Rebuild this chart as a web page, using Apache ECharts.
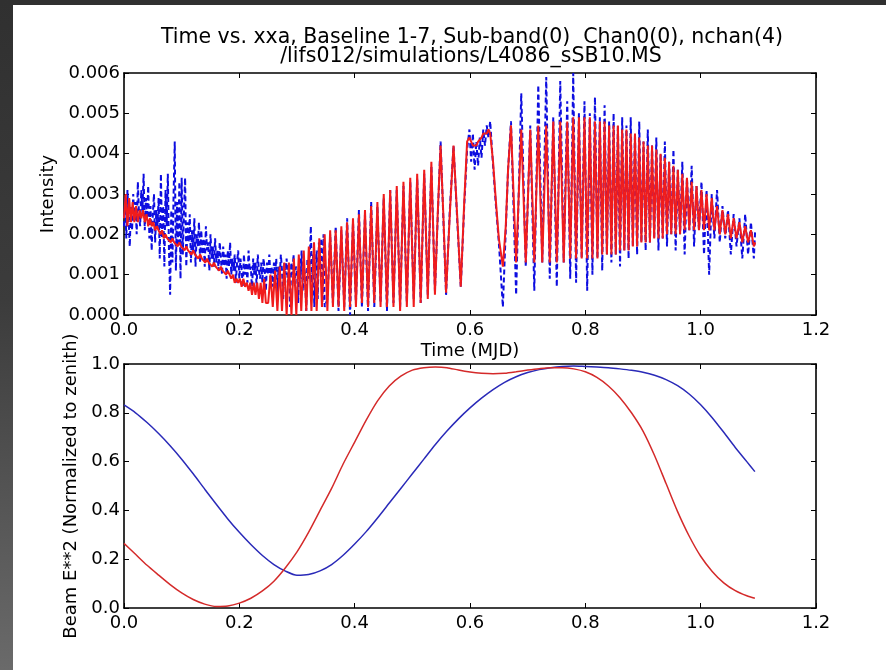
<!DOCTYPE html>
<html>
<head>
<meta charset="utf-8">
<script src="https://cdn.jsdelivr.net/npm/echarts@6/dist/echarts.min.js"></script>
<style>
html,body{margin:0;padding:0;background:#fff;}
#chart{width:886px;height:670px;}
</style>
</head>
<body>
<div id="chart"></div>
<script>
// ---------- Top panel: Intensity vs Time (MJD) ----------
// red (model) samples
const timeA = [0,.003,.006,.009,.012,.015,.018,.021,.024,.027,.03,.033,.036,.039,.042,.045,.048,.051,.054,.057,.06,.063,.066,.069,.072,.075,.078,.081,.084,.087,.09,.093,.096,.099,.102,.105,.108,.111,.114,.117,.12,.123,.126,.129,.132,.135,.138,.141,.144,.147,.15,.153,.156,.159,.162,.165,.168,.171,.174,.177,.18,.183,.186,.189,.192,.195,.198,.201,.204,.207,.21,.213,.216,.219,.222,.225,.228,.231,.234,.237,.24,.243,.246];
const redA = [.0024,.0030,.0022,.0029,.0023,.0028,.0023,.0027,.0023,.0026,.0024,.0026,.0023,.0025,.0022,.0024,.0022,.0023,.0021,.0022,.0021,.0020,.0021,.0019,.0020,.0019,.0019,.0018,.0019,.0018,.0018,.0017,.0018,.0017,.0017,.0016,.0017,.0016,.0016,.0015,.0016,.0015,.0015,.0014,.0015,.0014,.0014,.0013,.0014,.0013,.0013,.0012,.0013,.0012,.0012,.0011,.0012,.0011,.0011,.0010,.0011,.0010,.0009,.0010,.0008,.0009,.0008,.0009,.0007,.0009,.0007,.0008,.0006,.0008,.0005,.0008,.0005,.0008,.0004,.0008,.0003,.0009,.0003];
const timeB1 = [.25,.254,.258,.262,.266,.27,.274,.278,.282,.286,.2904,.2946,.2988,.3031,.3074,.3117,.3161,.3205,.325,.3295,.3341,.3387,.3433,.348];
const redB1 = [.0003,.0010,.0002,.0011,.0001,.0012,.0001,.0013,.0000,.0013,.0000,.0014,.0000,.0015,.0001,.0016,.0001,.0017,.0001,.0018,.0001,.0019,.0002,.0020];

// blue (data) samples before the fringes
const timeBlueA = [0,.002,.004,.006,.008,.01,.012,.014,.016,.018,
.02,.022,.024,.026,.028,.03,.032,.034,.036,.038,
.04,.042,.044,.046,.048,.05,.052,.054,.056,.058,
.06,.062,.064,.066,.068,.07,.072,.074,.076,.078,
.08,.082,.084,.086,.088,.09,.092,.094,.096,.098,
.1,.102,.104,.106,.108,.11,.112,.114,.116,.118,
.12,.122,.124,.126,.128,.13,.132,.134,.136,.138,
.14,.142,.144,.146,.148,.15,.152,.154,.156,.158,
.16,.162,.164,.166,.168,.17,.172,.174,.176,.178,
.18,.182,.184,.186,.188,.19,.192,.194,.196,.198,
.2,.202,.204,.206,.208,.21,.212,.214,.216,.218,
.22,.222,.224,.226,.228,.23,.232,.234,.236,.238,
.24,.242,.244,.246,.248,.25,.252,.254,.256,.258,
.26,.262,.264,.266,.268,.27,.272,.274,.276,.278,
.28,.282,.284,.286,.288,.29,.292,.294,.296,.298,
.3,.302,.304,.306,.308,.31,.312,.314,.316,.318,
.32,.322,.324,.326,.328,.33,.332,.334,.336,.338,
.34,.342,.344,.346,.348];
const blueA = [.0022,.0029,.0019,.0031,.0024,.0017,.0027,.0021,.0030,.0023,
.0028,.0020,.0033,.0025,.0022,.0031,.0026,.0035,.0021,.0029,
.0024,.0032,.0019,.0027,.0016,.0025,.0030,.0018,.0026,.0022,
.0029,.0014,.0035,.0019,.0027,.0012,.0031,.0022,.0035,.0016,
.0005,.0026,.0013,.0030,.0043,.0011,.0028,.0017,.0033,.0009,
.0034,.0015,.0026,.0034,.0012,.0023,.0018,.0025,.0013,.0021,
.0016,.0024,.0012,.0020,.0017,.0023,.0013,.0021,.0015,.0019,
.0012,.0022,.0016,.0018,.0011,.0020,.0014,.0017,.0012,.0019,
.0013,.0016,.0011,.0018,.0014,.0010,.0017,.0012,.0015,.0009,
.0016,.0012,.0018,.0010,.0014,.0011,.0015,.0008,.0013,.0016,
.0009,.0014,.0011,.0007,.0015,.0010,.0013,.0008,.0016,.0011,
.0012,.0006,.0014,.0010,.0013,.0007,.0015,.0011,.0009,.0013,
.0008,.0014,.0011,.0006,.0013,.0010,.0015,.0009,.0012,.0007,
.0013,.0010,.0014,.0005,.0012,.0009,.0015,.0011,.0004,.0013,
.0010,.0014,.0008,.0012,.0002,.0013,.0010,.0015,.0007,.0012,
.0011,.0003,.0014,.0009,.0016,.0006,.0012,.0010,.0001,.0014,
.0009,.0013,.0022,.0008,.0015,.0002,.0012,.0016,.0004,.0018,
.0011,.0019,.0003,.0020,.0002];

// shared samples (fringe region)
const timeB2 = [.3527,.3575,.3623,.3671,.372,.3769,.3819,.3869,.392,.3971,.4022,.4074,.4126,.4179,.4232,.4286,.434,.4394,.4449,.4504,.456,.4616,.4673,.473,.4788,.4846,.4905,.4964,.5024,.5084,.5145,.5206,.5268,.533,.5392];
const redB2 = [.0001,.0021,.0002,.0021,.0002,.0022,.0001,.0023,.0002,.0024,.0002,.0025,.0003,.0026,.0002,.0027,.0003,.0028,.0002,.0030,.0002,.0031,.0002,.0032,.0001,.0033,.0002,.0034,.0002,.0035,.0003,.0036,.0004,.0038,.0005];
const blueB2 = [.0004,.0020,.0003,.0022,.0001,.0021,.0002,.0024,.0000,.0023,.0003,.0026,.0002,.0025,.0001,.0028,.0002,.0027,.0003,.0029,.0001,.0031,.0003,.0031,.0002,.0032,.0003,.0033,.0004,.0034,.0003,.0035,.0005,.0037,.0006];

const timeC = [.544,.549,.554,.5585,.565,.5714,.578,.584,.59,.595,.599,.602,.605,.608,.611,.614,.617,.62,.623,.626,.629,.632,.635,.64,.645,.65,.657,.662,.666];
const redC = [.0025,.0042,.0024,.00055,.0025,.0042,.0024,.0007,.0028,.0043,.0044,.0043,.0042,.0042,.0042,.0043,.0043,.0044,.0045,.0045,.0045,.0046,.0045,.0038,.0028,.0019,.0012,.0022,.0036];
const blueC = [.0024,.0043,.0023,.0005,.0026,.0042,.0023,.0007,.0027,.0041,.0046,.0038,.0045,.0036,.0043,.0037,.0044,.0039,.0046,.0042,.0047,.0044,.0048,.0037,.0027,.0018,.0002,.0021,.0036];

const timeD = [.6711,.68,.6889,.6967,.7045,.7115,.7184,.7253,.7322,.7383,.7444,.7505,.7565,.7625,.7686,.7738,.779,.784,.7889,.7937,.7985,.8032,.8078,.8123,.8167,.821,.8252,.8293,.8334,.8374,.8413,.8452,.849,.8528,.8565,.8602,.8639,.8676,.8713,.875,.8787,.8824,.8861,.8898,.8935,.8972,.9009,.9046,.9083,.912,.9157,.9194,.9231,.9268,.9305,.9342,.9379,.9416,.9453,.949,.9528,.9566,.9604,.9643,.9682,.9722,.9762,.9803,.9844,.9886,.9928,.9971,1.0014,1.0058,1.0102,1.0147,1.0192,1.0238,1.0284,1.0331,1.0378,1.0426,1.0474,1.0523,1.0572,1.0622,1.0672,1.0722,1.0772,1.0822,1.0872,1.0922,1.0945];
const redD = [.0047,.0013,.0046,.0013,.0046,.0013,.0047,.0013,.0047,.0013,.0048,.0013,.0048,.0013,.0048,.0014,.0049,
.0014,.0049,.0014,.0049,.0014,.0049,.0014,.0048,.0014,.0048,
.0015,.0048,.0015,.0047,.0015,.0047,.0015,.0047,.0016,.0046,
.0016,.0046,.0016,.0045,.0017,.0045,.0017,.0044,.0018,.0043,
.0018,.0042,.0018,.0042,.0019,.0041,.0019,.0040,.0019,.0039,
.0020,.0038,.0020,.0037,.0020,.0036,.0020,.0035,.0021,.0034,
.0021,.0033,.0021,.0032,.0021,.0031,.0021,.0030,.0021,.0029,
.0021,.0027,.0020,.0026,.0020,.0025,.0019,.0024,.0019,.0023,
.0018,.0022,.0018,.0021,.0017,.0018];
const blueD = [.0048,.0005,.0055,.0012,.0047,.0006,.0057,.0013,.0059,.0009,.0049,.0007,.0058,.0013,.0053,.0009,.0060,
.0008,.0050,.0014,.0053,.0006,.0050,.0010,.0054,.0014,.0049,
.0011,.0052,.0015,.0048,.0013,.0050,.0015,.0047,.0012,.0049,
.0016,.0047,.0014,.0049,.0017,.0045,.0015,.0048,.0018,.0043,
.0016,.0046,.0018,.0042,.0019,.0044,.0016,.0040,.0019,.0043,
.0017,.0038,.0020,.0041,.0016,.0036,.0020,.0038,.0015,.0034,
.0021,.0037,.0017,.0032,.0021,.0033,.0015,.0031,.0010,.0030,
.0019,.0031,.0018,.0027,.0019,.0026,.0015,.0025,.0017,.0024,
.0014,.0025,.0015,.0023,.0014,.0021];

// ---------- Bottom panel: Beam E**2 ----------
const beamTime = [0,.02,.04,.06,.08,.1,.12,.14,.16,.18,.2,.22,.24,.26,.28,.3,.32,.34,.36,.38,.4,.42,.44,.46,.48,.5,.52,.54,.56,.58,.6,.62,.64,.66,.68,.7,.72,.74,.76,.78,.8,.82,.84,.86,.88,.9,.92,.94,.96,.98,1,1.02,1.04,1.06,1.08,1.094];
const beamBlue = [.832,.80,.76,.715,.665,.61,.55,.487,.425,.365,.31,.26,.215,.178,.151,.134,.137,.152,.178,.216,.262,.313,.37,.43,.49,.55,.61,.67,.725,.775,.82,.86,.895,.925,.948,.965,.977,.985,.99,.992,.99,.988,.985,.98,.974,.966,.954,.936,.911,.877,.833,.78,.72,.658,.60,.559];
const beamRed = [.265,.22,.175,.135,.096,.062,.035,.016,.006,.008,.02,.04,.07,.11,.165,.23,.31,.40,.49,.59,.68,.77,.85,.91,.95,.975,.985,.988,.985,.975,.967,.962,.96,.962,.968,.975,.981,.985,.985,.98,.968,.945,.91,.862,.80,.725,.625,.51,.395,.295,.212,.15,.103,.071,.05,.04];

// tick labels
const xTicks = ['0.0','0.2','0.4','0.6','0.8','1.0','1.2'];

const titleLine1 = 'Time vs. xxa, Baseline 1-7, Sub-band(0)  Chan0(0), nchan(4)';
const titleLine2 = '/lifs012/simulations/L4086_sSB10.MS';

function zip(t, v){ return t.map((x,i)=>[x, v[i]]); }
const topRedData = zip([].concat(timeA, timeB1, timeB2, timeC, timeD), [].concat(redA, redB1, redB2, redC, redD));
const topBlueData = zip([].concat(timeBlueA, timeB2, timeC, timeD), [].concat(blueA, blueB2, blueC, blueD));

const FONT = 'DejaVu Sans';
const lbl = {fontFamily: FONT, fontSize: 18, color: '#000'};
const axLine = {show: true, onZero: false, lineStyle: {color: '#000', width: 1.6}};
const tick = {show: true, inside: true, length: 5, lineStyle: {color: '#000', width: 1}};

function xAx(grid, pos, showLabel, name){
  return {
    type: 'value', gridIndex: grid, position: pos, min: 0, max: 1.2, interval: 0.2,
    axisLine: axLine, axisTick: tick, splitLine: {show: false},
    axisLabel: Object.assign({show: showLabel, margin: 6, formatter: v => xTicks[Math.round(v/0.2)]}, lbl),
    name: name || '', nameLocation: 'middle', nameGap: 27,
    nameTextStyle: lbl
  };
}
function yAx(grid, pos, showLabel, max, interval, dec, name, gap){
  return {
    type: 'value', gridIndex: grid, position: pos, min: 0, max: max, interval: interval,
    axisLine: axLine, axisTick: tick, splitLine: {show: false},
    axisLabel: Object.assign({show: showLabel, margin: 4, formatter: v => v.toFixed(dec)}, lbl),
    name: name || '', nameLocation: 'middle', nameGap: gap || 0, nameRotate: 90,
    nameTextStyle: lbl
  };
}

const chart = echarts.init(document.getElementById('chart'), null, {renderer: 'canvas'});
chart.setOption({
  animation: false,
  backgroundColor: '#fff',
  graphic: [
    {type: 'rect', z: 100, shape: {x: 0, y: 0, width: 886, height: 5}, style: {fill: '#303030'}},
    {type: 'rect', z: 100, shape: {x: 0, y: 0, width: 13, height: 670},
     style: {fill: {type: 'linear', x: 0, y: 0, x2: 0, y2: 1,
       colorStops: [{offset: 0, color: '#303030'}, {offset: 0.45, color: '#3c3c3c'}, {offset: 1, color: '#6a6a6a'}]}}}
  ],
  title: [
    {text: titleLine1, left: 467, top: 22, textAlign: 'center',
     textStyle: {fontFamily: FONT, fontSize: 20.5, fontWeight: 'normal', color: '#000', lineHeight: 22}},
    {text: titleLine2, left: 466, top: 41, textAlign: 'center',
     textStyle: {fontFamily: FONT, fontSize: 20.5, fontWeight: 'normal', color: '#000', lineHeight: 22}}
  ],
  grid: [
    {left: 124, top: 73, right: 70, height: 242, containLabel: false},
    {left: 124, top: 364, right: 70, height: 244, containLabel: false}
  ],
  xAxis: [
    xAx(0, 'bottom', true, 'Time (MJD)'),
    xAx(0, 'top', false),
    xAx(1, 'bottom', true),
    xAx(1, 'top', false)
  ],
  yAxis: [
    yAx(0, 'left', true, 0.006, 0.001, 3, 'Intensity', 55),
    yAx(0, 'right', false, 0.006, 0.001, 3),
    yAx(1, 'left', true, 1.0, 0.2, 1, 'Beam E**2 (Normalized to zenith)', 33),
    yAx(1, 'right', false, 1.0, 0.2, 1)
  ],
  series: [
    {type: 'line', xAxisIndex: 0, yAxisIndex: 0, data: topBlueData, showSymbol: false,
     lineStyle: {color: '#0d0de0', width: 2, type: [5, 3]}, z: 2},
    {type: 'line', xAxisIndex: 0, yAxisIndex: 0, data: topRedData, showSymbol: false,
     lineStyle: {color: '#f01c1c', width: 2}, z: 3},
    {type: 'line', xAxisIndex: 2, yAxisIndex: 2, data: zip(beamTime, beamBlue), showSymbol: false, smooth: 0.25,
     lineStyle: {color: '#2a2ab8', width: 1.5}, z: 2},
    {type: 'line', xAxisIndex: 2, yAxisIndex: 2, data: zip(beamTime, beamRed), showSymbol: false, smooth: 0.25,
     lineStyle: {color: '#d42a2a', width: 1.5}, z: 3}
  ]
});
</script>
</body>
</html>
